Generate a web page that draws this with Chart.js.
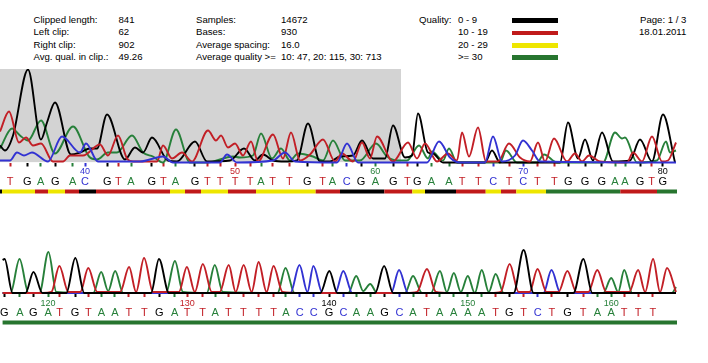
<!DOCTYPE html>
<html lang="en">
<head>
    <meta charset="UTF-8">
    <title>Sequence trace</title>
    <script src="https://cdn.jsdelivr.net/npm/chart.js"></script>
    <style>
        body, html {
            margin: 0;
            padding: 0;
            width: 708px;
            height: 363px;
            overflow: hidden;
            background: #fff;
            font-family: "Liberation Sans", Arial, sans-serif;
        }
        canvas { position: absolute; left: 0; }
        .txt { position: absolute; font-size: 9.6px; line-height: 12px; color: #000; white-space: nowrap; }
        .swatch { position: absolute; left: 512px; width: 46px; height: 4.5px; }
    </style>
</head>
<body>
    <canvas id="topChart" width="708" height="130" style="top:69px"></canvas>
    <canvas id="bottomChart" width="708" height="100" style="top:231px"></canvas>

    <script>
        // header text
        const statLabels = ['Clipped length:', 'Left clip:', 'Right clip:', 'Avg. qual. in clip.:'];
        const statValues = ['841', '62', '902', '49.26'];
        const sampleLabels = ['Samples:', 'Bases:', 'Average spacing:', 'Average quality >='];
        const sampleValues = ['14672', '930', '16.0', '10: 47, 20: 115, 30: 713'];
        const qualityLabels = ['0 - 9', '10 - 19', '20 - 29', '>= 30'];
        const qualityColors = ['#000000', '#c01a1a', '#eee600', '#27752f'];

        const baseColors = { G: '#000000', T: '#c21f26', A: '#27803a', C: '#3232d2' };

        // first row: scan position, signal
        const topG = [[0,17],[5,12],[13,27],[28,93],[41,23],[47,40],[55,60],[71,8],[80,10],[90,14],[97,14],[107,48],[125,3],[135,15],[143,10],[152,25],[168,2],[177,1],[195,21],[207,1],[230,2],[244,14],[255,2],[263,8],[273,2],[285,1],[297,2],[308,39],[320,1],[330,1],[340,6],[353,7],[362,22],[373,4],[385,4],[393,37],[405,5],[412,7],[418,49],[428,10],[433,9],[443,0],[485,0],[492,12],[500,0],[560,0],[568,40],[578,4],[585,23],[593,2],[602,30],[613,1],[630,2],[640,23],[652,1],[663,48],[675,0]];
        const topT = [[0,31],[9,51],[19,20],[26,25],[33,17],[41,19],[53,1],[63,1],[70,7],[83,7],[100,18],[108,7],[118,27],[127,4],[133,1],[157,1],[163,17],[172,4],[182,10],[192,1],[208,32],[216,22],[221,27],[228,15],[235,19],[243,7],[251,21],[258,1],[273,28],[283,4],[291,30],[300,2],[310,8],[323,23],[335,1],[342,9],[353,1],[362,20],[370,4],[377,26],[393,1],[408,20],[417,4],[425,19],[437,1],[448,9],[457,2],[462,30],[469,6],[478,35],[486,1],[498,1],[509,19],[520,5],[530,1],[538,20],[545,1],[554,24],[567,1],[575,9],[582,1],[589,7],[600,1],[627,0],[633,10],[642,1],[652,26],[662,1],[668,2],[676,20]];
        const topA = [[0,14],[12,34],[20,27],[28,22],[41,42],[55,9],[73,36],[89,6],[97,3],[108,10],[117,10],[132,27],[143,10],[153,6],[163,0],[176,33],[190,0],[207,0],[233,6],[240,5],[253,7],[261,29],[272,4],[281,14],[290,2],[298,9],[313,6],[323,2],[333,22],[345,2],[360,2],[376,19],[387,6],[397,2],[407,2],[419,17],[428,4],[432,11],[443,2],[449,14],[457,0],[500,0],[506,12],[517,0],[537,0],[544,8],[557,0],[603,0],[615,30],[622,24],[625,25],[637,0],[657,2],[666,21],[670,10],[676,12]];
        const topC = [[0,2],[10,2],[17,10],[24,7],[32,10],[48,1],[62,26],[80,10],[86,19],[98,1],[140,1],[163,6],[173,0],[220,0],[227,8],[237,0],[273,2],[285,10],[295,1],[337,0],[347,19],[358,0],[427,0],[439,21],[450,5],[460,0],[485,0],[493,26],[502,1],[515,7],[523,22],[532,12],[540,1],[676,0]];

        const topBases = 'TGAGACGTAGTAGTTTTATTGTACGAGTGAATTCTCTTGGGAAGTG';
        const topFirstBase = 35;
        const topBasePos = [10,27.3,40.7,55.3,72.7,85,107.3,118.3,131,151.7,163.3,175.3,195,207.3,220,235,250,261,272.7,289.3,307.3,322.7,332.3,346.7,361,375.3,393.3,407.3,417.3,431.3,449,462,478.3,493.3,509,523.3,537.3,554.3,568.3,585,601.7,615,625,640,651.7,662.7];
        const topQualEdges = [0,2,35,48,65,79,96,170,185,201,228,256,315.7,340,384.3,412.3,425,456,485.7,501,516.3,546,620.3,657,677];
        const topQualBands = [0,2,1,2,1,0,1,2,1,2,1,2,1,0,1,2,0,1,2,1,2,3,1,3];
        const clipRange = [0, 401];

        // second row
        const bottomG = [[0,33],[2,34],[10,0],[23,0],[31,21],[40,0],[64,0],[73,35],[82,0],[149,0],[157,34],[167,0],[319,0],[328,22],[336,0],[374,0],[383,27],[392,0],[513,0],[523,43],[533,0],[573,0],[583,34],[592,0],[676,0]];
        const bottomT = [[0,0],[40,0],[49,1],[57,27],[66,1],[78,1],[86,25],[95,1],[118,1],[127,26],[134,1],[142,35],[151,1],[177,1],[185,26],[193,1],[201,29],[210,1],[218,1],[227,28],[234,1],[242,28],[250,1],[257,31],[265,1],[272,27],[281,1],[300,0],[405,0],[416,1],[426,24],[435,1],[450,0],[490,0],[500,1],[509,29],[518,1],[529,1],[537,24],[546,1],[558,1],[567,22],[576,1],[588,1],[597,23],[606,1],[629,1],[638,23],[645,1],[653,34],[660,1],[667,25],[676,1]];
        const bottomA = [[0,0],[8,0],[17,34],[26,0],[37,0],[46,41],[54,1],[91,0],[99,21],[106,2],[113,22],[121,0],[164,0],[173,32],[181,1],[205,0],[213,28],[221,1],[276,0],[284,25],[293,0],[347,0],[355,17],[362,2],[369,9],[376,0],[404,0],[412,17],[421,0],[430,0],[439,22],[446,1],[453,20],[460,1],[467,17],[474,0],[481,23],[488,1],[495,19],[503,0],[603,0],[611,15],[618,1],[624,23],[632,0],[672,0],[676,6]];
        const bottomC = [[0,0],[289,0],[298,28],[306,1],[312,27],[321,0],[334,0],[342,22],[351,0],[390,0],[398,23],[407,0],[543,0],[551,23],[560,0],[676,0]];

        const bottomBases = 'GAGATGTAATTGATTATTTTACCGCAAGCATAAAATGTCTGTAATTT';
        const bottomFirstBase = 117;
        const bottomBasePos = [1.7,17.3,30.7,45.7,57.3,72.7,86,99.3,112.7,126.7,142.3,157.3,172.7,185.3,200.7,213.3,226.7,241.7,257.3,272,284.3,298.3,312.3,327.7,342.3,355.3,369.3,383.3,398.3,412,425.7,438.7,452.7,467,481,495,508.7,523,537.3,551.3,567,582.7,597,611,624,638,652.7,667.3];
        const bottomQualEdges = [0,677];
        const bottomQualBands = [3];

        // header
        function addText(text, x, y) {
            const el = document.createElement('div');
            el.className = 'txt';
            el.textContent = text;
            el.style.left = x + 'px';
            el.style.top = y + 'px';
            document.body.appendChild(el);
        }
        const rowY = [13.5, 26, 38.5, 51];
        const rowBar = [18, 30.5, 43, 55];
        rowY.forEach((y, i) => {
            addText(statLabels[i], 33.5, y);
            addText(statValues[i], 118.5, y);
            addText(sampleLabels[i], 196, y);
            addText(sampleValues[i], 281, y);
            addText(qualityLabels[i], 458, y);
            const bar = document.createElement('div');
            bar.className = 'swatch';
            bar.style.top = rowBar[i] + 'px';
            bar.style.background = qualityColors[i];
            document.body.appendChild(bar);
        });
        addText('Quality:', 419, rowY[0]);
        addText('Page: 1 / 3', 640, rowY[0]);
        addText('18.01.2011', 639, rowY[1]);

        function trace(data, base) {
            return {
                data: data,
                borderColor: baseColors[base],
                borderWidth: 1.9,
                pointRadius: 0,
                cubicInterpolationMode: 'monotone',
                clip: false
            };
        }

        function drawRow(id, opts) {
            const posAxis = {
                type: 'linear',
                position: 'bottom',
                min: 0,
                max: 676,
                afterBuildTicks: s => { s.ticks = opts.pos.map(v => ({ value: v })); }
            };
            const letter = i => opts.bases[i];
            const qualY = opts.qualY;
            // first dataset ends up on top
            const datasets = opts.traceOrder.map(b => trace(opts[b], b));
            datasets.push({
                // quality strip under the letters
                data: opts.edges.map(x => [x, qualY]),
                borderWidth: 4,
                borderColor: qualityColors[3],
                borderCapStyle: 'butt',
                segment: { borderColor: c => qualityColors[opts.bands[c.p0DataIndex]] },
                pointRadius: 0,
                tension: 0,
                clip: false
            });
            if (opts.clip) {
                datasets.push({
                    data: opts.clip.map(x => [x, opts.yMax]),
                    borderWidth: 0,
                    pointRadius: 0,
                    fill: 'origin',
                    backgroundColor: '#d3d3d3'
                });
            }
            new Chart(document.getElementById(id), {
                type: 'line',
                data: { datasets: datasets },
                options: {
                    responsive: false,
                    animation: false,
                    events: [],
                    layout: { autoPadding: false, padding: { left: 0, right: 32, top: 0, bottom: opts.padBottom } },
                    plugins: { legend: { display: false }, tooltip: { enabled: false } },
                    scales: {
                        y: { type: 'linear', display: false, min: 0, max: opts.yMax },
                        x: {
                            ...posAxis,
                            weight: 1,
                            afterFit: s => { s.height = opts.numberHeight; },
                            border: { display: false },
                            grid: {
                                drawOnChartArea: false,
                                tickLength: 4,
                                tickWidth: 2,
                                tickColor: c => baseColors[letter(c.index)]
                            },
                            ticks: {
                                autoSkip: false,
                                maxRotation: 0,
                                padding: opts.numberPad,
                                font: { size: 9, family: '"Liberation Sans"' },
                                color: c => baseColors[letter(c.index)],
                                callback: (v, i) => (opts.first + i) % 10 === 0 ? String(opts.first + i) : ''
                            }
                        },
                        xLetters: {
                            ...posAxis,
                            weight: 2,
                            afterFit: s => { s.height = 12; },
                            border: { display: false },
                            grid: { display: false, drawTicks: false },
                            ticks: {
                                autoSkip: false,
                                maxRotation: 0,
                                padding: 0,
                                font: { size: 11, family: '"Liberation Sans"' },
                                color: c => baseColors[letter(c.index)],
                                callback: (v, i) => letter(i)
                            }
                        }
                    }
                }
            });
        }

        drawRow('topChart', {
            G: topG, T: topT, A: topA, C: topC, traceOrder: ['C', 'T', 'G', 'A'],
            bases: topBases, first: topFirstBase, pos: topBasePos,
            edges: topQualEdges, bands: topQualBands, numberHeight: 12.5, numberPad: 0,
            clip: clipRange, yMax: 93.5, qualY: -29, padBottom: 12
        });
        drawRow('bottomChart', {
            G: bottomG, T: bottomT, A: bottomA, C: bottomC, traceOrder: ['G', 'T', 'C', 'A'],
            bases: bottomBases, first: bottomFirstBase, pos: bottomBasePos,
            edges: bottomQualEdges, bands: bottomQualBands, numberHeight: 13.5, numberPad: 1,
            clip: null, yMax: 62, qualY: -29.5, padBottom: 12.5
        });
    </script>
</body>
</html>
